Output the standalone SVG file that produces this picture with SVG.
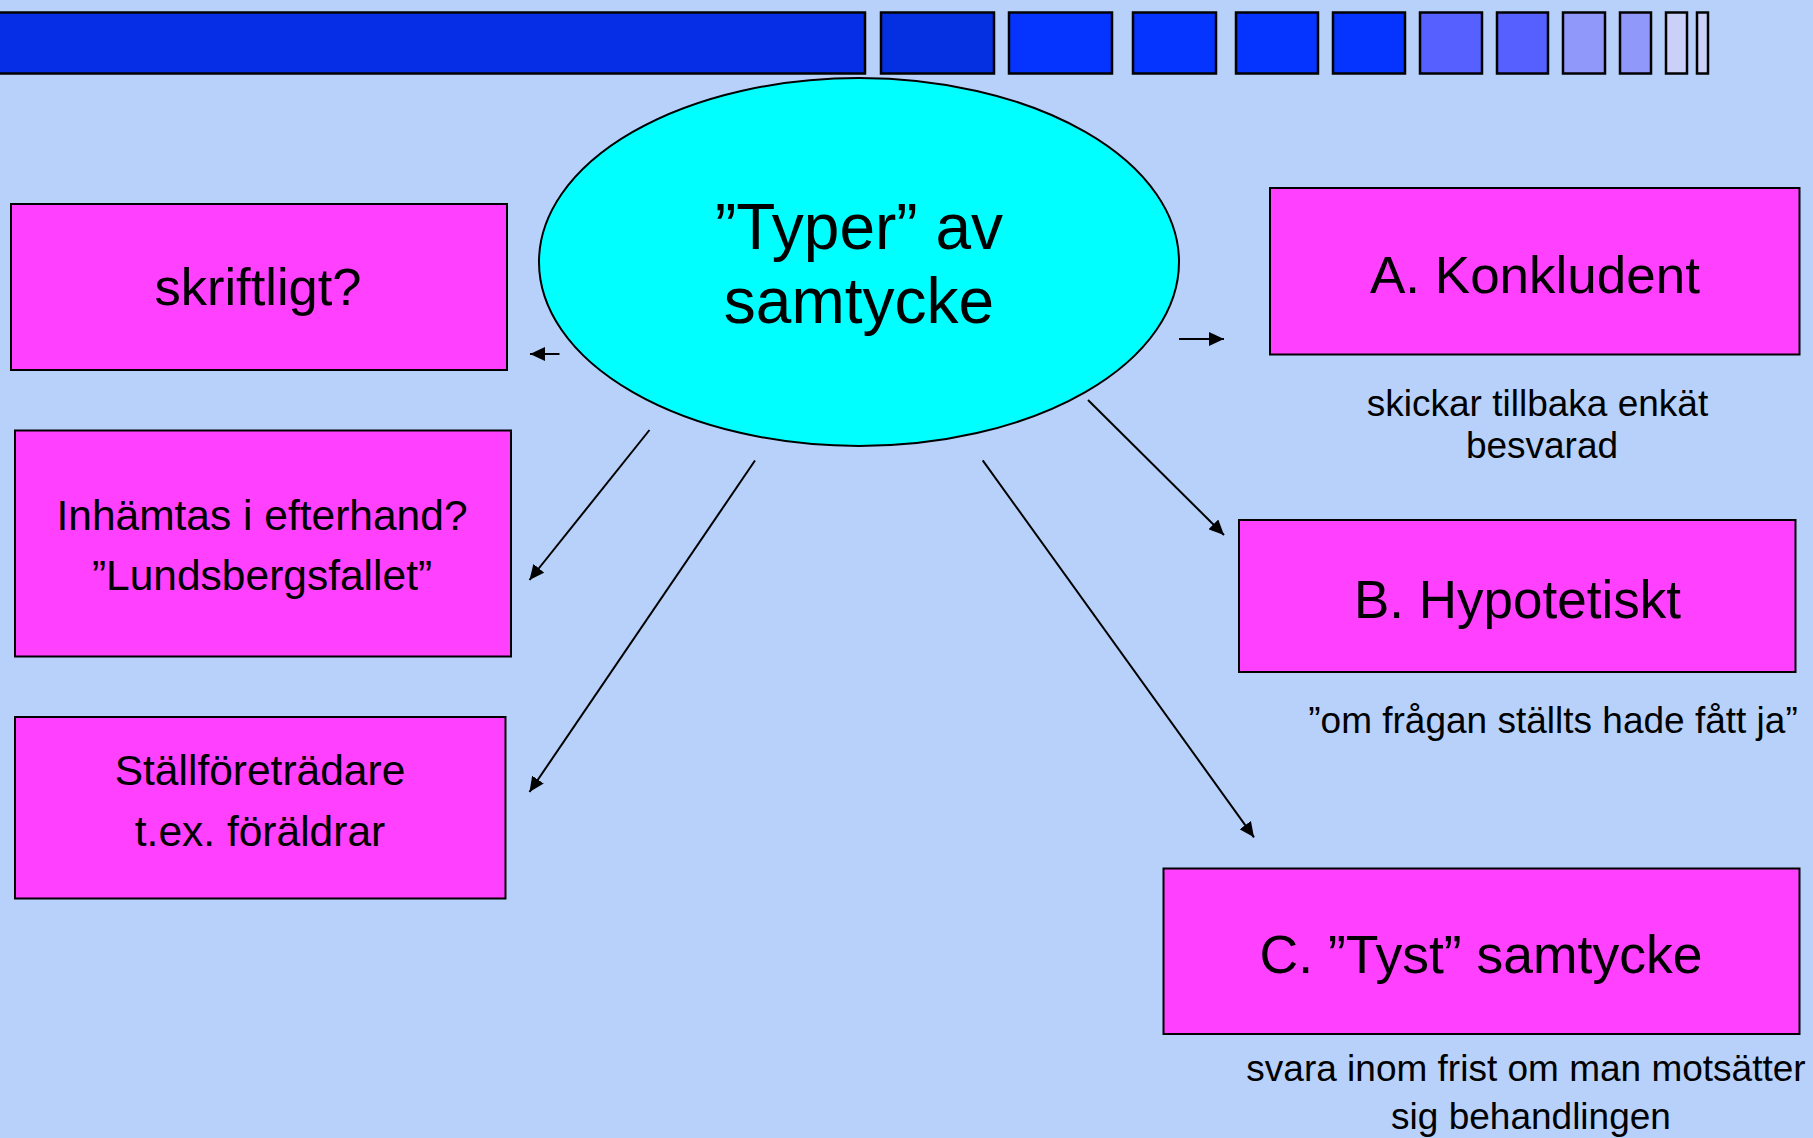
<svg xmlns="http://www.w3.org/2000/svg" width="1813" height="1138" viewBox="0 0 1813 1138">
<defs>
<style>
.bar{stroke:#000;stroke-width:2.5}
.box{fill:#FF40FF;stroke:#000;stroke-width:2}
.t{font-family:"Liberation Sans",Arial,sans-serif;fill:#000;text-anchor:middle}
.con{stroke:#000;stroke-width:2;fill:none;marker-end:url(#ah)}
</style>
<marker id="ah" markerUnits="userSpaceOnUse" markerWidth="16" markerHeight="14" refX="15" refY="7" orient="auto">
<path d="M0,0 L15,7 L0,14 z" fill="#000"/>
</marker>
</defs>
<rect x="0" y="0" width="1813" height="1138" fill="#B7D1FB"/>
<g id="topbar">
<rect class="bar" x="-5" y="12.5" width="870" height="61" fill="#052EE6"/>
<rect class="bar" x="881" y="12.5" width="113" height="61" fill="#0530E2"/>
<rect class="bar" x="1009" y="12.5" width="103" height="61" fill="#0533FF"/>
<rect class="bar" x="1133" y="12.5" width="83" height="61" fill="#0533FF"/>
<rect class="bar" x="1236" y="12.5" width="82" height="61" fill="#0533FF"/>
<rect class="bar" x="1333" y="12.5" width="72" height="61" fill="#0533FF"/>
<rect class="bar" x="1420" y="12.5" width="62" height="61" fill="#5560FF"/>
<rect class="bar" x="1497" y="12.5" width="51" height="61" fill="#5560FF"/>
<rect class="bar" x="1563" y="12.5" width="42" height="61" fill="#9099FA"/>
<rect class="bar" x="1620" y="12.5" width="31" height="61" fill="#9099FA"/>
<rect class="bar" x="1666" y="12.5" width="21" height="61" fill="#CBD0F8"/>
<rect class="bar" x="1697" y="12.5" width="11" height="61" fill="#CBD0F8"/>
</g>
<g id="connectors">
<line class="con" x1="559.5" y1="354" x2="530" y2="354"/>
<line class="con" x1="1179" y1="339" x2="1224" y2="339"/>
<line class="con" x1="649.5" y1="430" x2="529.5" y2="580"/>
<line class="con" x1="755" y1="460.5" x2="529.5" y2="792"/>
<line class="con" x1="1088" y1="400" x2="1224" y2="535"/>
<line class="con" x1="982.7" y1="460.3" x2="1254" y2="837.3"/>
</g>
<g id="center">
<ellipse cx="859" cy="262" rx="320" ry="184" fill="#00FFFF" stroke="#000" stroke-width="2"/>
<text class="t" x="859" y="249" font-size="64">”Typer” av</text>
<text class="t" x="859" y="323" font-size="64">samtycke</text>
</g>
<g id="skriftligt">
<rect class="box" x="11" y="204" width="496" height="166"/>
<text class="t" x="258" y="305" font-size="52.5">skriftligt?</text>
</g>
<g id="inhamtas">
<rect class="box" x="15" y="430.5" width="496" height="226"/>
<text class="t" x="262" y="530" font-size="42.5">Inhämtas i efterhand?</text>
<text class="t" x="262" y="590" font-size="42.5">”Lundsbergsfallet”</text>
</g>
<g id="stallforetradare">
<rect class="box" x="15" y="717" width="490.5" height="181.5"/>
<text class="t" x="260" y="785" font-size="42.5">Ställföreträdare</text>
<text class="t" x="260" y="846" font-size="42.5">t.ex. föräldrar</text>
</g>
<g id="konkludent">
<rect class="box" x="1270" y="188" width="529.5" height="166.5"/>
<text class="t" x="1535" y="292.5" font-size="52" textLength="330" lengthAdjust="spacingAndGlyphs">A. Konkludent</text>
<text class="t" x="1537.5" y="415.5" font-size="37">skickar tillbaka enkät</text>
<text class="t" x="1542" y="457.5" font-size="37">besvarad</text>
</g>
<g id="hypotetiskt">
<rect class="box" x="1239" y="520" width="556.5" height="152"/>
<text class="t" x="1517.5" y="617.5" font-size="53">B. Hypotetiskt</text>
<text class="t" x="1553" y="732.5" font-size="37">”om frågan ställts hade fått ja”</text>
</g>
<g id="tyst">
<rect class="box" x="1163.5" y="868.5" width="636" height="165.5"/>
<text class="t" x="1481" y="972.5" font-size="53.5">C. ”Tyst” samtycke</text>
<text class="t" x="1526" y="1081" font-size="37">svara inom frist om man motsätter</text>
<text class="t" x="1531" y="1129" font-size="37">sig behandlingen</text>
</g>
</svg>
